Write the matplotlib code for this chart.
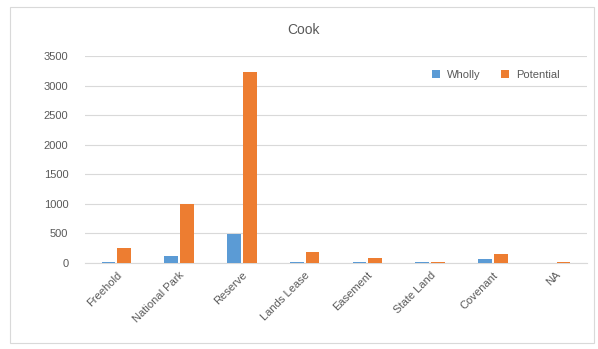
import numpy as np
import matplotlib.pyplot as plt
from matplotlib.patches import Rectangle

plt.rcParams['font.family'] = ['Liberation Sans', 'DejaVu Sans']

categories = ['Freehold', 'National Park', 'Reserve', 'Lands Lease',
              'Easement', 'State Land', 'Covenant', 'NA']
wholly = [15, 110, 490, 10, 10, 10, 60, 5]
potential = [250, 1000, 3230, 190, 80, 15, 150, 10]

blue = '#5B9BD5'
orange = '#ED7D31'
grey = '#595959'

fig = plt.figure(figsize=(5.98, 3.49), dpi=100)
# chart area frame
fig.patches.append(Rectangle((10 / 598, 1 - 343 / 349), 584 / 598, 336 / 349,
                             transform=fig.transFigure, fill=False,
                             edgecolor='#D9D9D9', linewidth=0.8))

ax = fig.add_axes([85 / 598, 1 - 263 / 349, 502 / 598, 207 / 349])
x = np.arange(len(categories))
w = 0.22
ax.bar(x - 0.125, wholly, w, color=blue, label='Wholly', zorder=3)
ax.bar(x + 0.125, potential, w, color=orange, label='Potential', zorder=3)

ax.set_xlim(-0.5, len(categories) - 0.5)
ax.set_ylim(0, 3500)
ax.set_yticks(np.arange(0, 3501, 500))
ax.grid(axis='y', color='#D9D9D9', linewidth=0.8, zorder=0)
for s in ['top', 'right', 'left']:
    ax.spines[s].set_visible(False)
ax.spines['bottom'].set_color('#D9D9D9')
ax.tick_params(axis='both', length=0, colors=grey, labelsize=8)
ax.tick_params(axis='y', pad=12)
ax.tick_params(axis='x', pad=5)
ax.set_xticks(x)
ax.set_xticklabels(categories, rotation=45, ha='right', rotation_mode='anchor')

fig.text(303 / 598, 1 - 30 / 349, 'Cook', ha='center', va='center',
         fontsize=10, color=grey)

ax.legend(loc='upper right', bbox_to_anchor=(0.965, 0.98), ncol=2, frameon=False,
          fontsize=8, handlelength=0.7, handleheight=0.7, columnspacing=1.9,
          handletextpad=0.6, labelcolor=grey)

fig.savefig('out.png', dpi=100)
